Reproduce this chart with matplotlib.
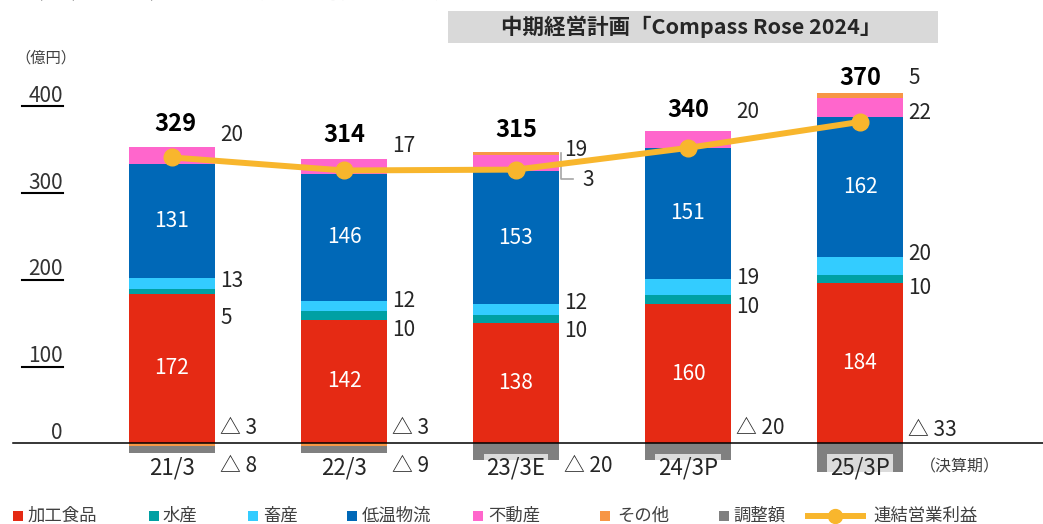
import matplotlib
matplotlib.use("Agg")
import matplotlib.pyplot as plt
from matplotlib.patches import Rectangle
from matplotlib.lines import Line2D

plt.rcParams["font.family"] = ["Noto Sans CJK JP", "DejaVu Sans"]

W_PX, H_PX = 1043, 524

# ---- data (億円) ----
periods    = ["21/3", "22/3", "23/3E", "24/3P", "25/3P"]
processed  = [172, 142, 138, 160, 184]   # 加工食品
seafood    = [5, 10, 10, 10, 10]         # 水産
livestock  = [13, 12, 12, 19, 20]        # 畜産
logistics  = [131, 146, 153, 151, 162]   # 低温物流
realestate = [20, 17, 19, 20, 22]        # 不動産
others     = [-3, -3, 3, 0, 5]           # その他
adjust     = [-8, -9, -20, -20, -33]     # 調整額
op_income  = [329, 314, 315, 340, 370]   # 連結営業利益

SERIES = [
    ("加工食品", processed, "#E52A14"),
    ("水産", seafood, "#00A0A3"),
    ("畜産", livestock, "#33CCFF"),
    ("低温物流", logistics, "#0068B7"),
    ("不動産", realestate, "#FF66CC"),
    ("その他", others, "#F79646"),
    ("調整額", adjust, "#808080"),
]
LINE_COLOR = "#F8B62D"
TXT = "#262626"

# label layout (y in data units) for the labels to the right of each bar
RIGHT_Y = {
    "水産":   [144, 130, 129, 157, 179],
    "畜産":   [187, 164, 161, 190, 218],
    "不動産": [355, 342, 338, 381, 380],
    "その他": [17, 17, 303, None, 420],
    "調整額": [-26, -26, -26, 17, 15],
}
TOTAL_Y = [367, 355, 361, 384, 421]

fig = plt.figure(figsize=(W_PX / 100, H_PX / 100), dpi=100)
ax = fig.add_axes([0, 0, 1, 1])
ax.set_xlim(-1.0, 5.064)
ax.set_ylim(-93.3, 510.4)
ax.axis("off")

x = list(range(len(periods)))
pos = [0] * len(x)
neg = [0] * len(x)
for name, vals, col in SERIES:
    bottoms = []
    for i, v in enumerate(vals):
        if v >= 0:
            bottoms.append(pos[i]); pos[i] += v
        else:
            bottoms.append(neg[i]); neg[i] += v
    ax.bar(x, vals, bottom=bottoms, width=0.5, color=col, zorder=2)
    if name in ("加工食品", "低温物流"):
        for i, v in enumerate(vals):
            ax.text(i, bottoms[i] + v / 2, f"{v}", color="white", fontsize=15,
                    ha="center", va="center", zorder=4)
    else:
        for i, v in enumerate(vals):
            y = RIGHT_Y[name][i]
            if y is None:
                continue
            s = f"△ {abs(v)}" if v < 0 else f"{v}"
            dx = 0.385 if (name == "その他" and v > 0 and i == 2) else 0.28
            ax.text(i + dx, y, s, color=TXT, fontsize=15, ha="left",
                    va="center", zorder=4)

# leader line for the small その他 segment of 23/3E
ax.plot([2 + 0.262, 2 + 0.262, 2 + 0.33], [334, 304, 304], color="#A6A6A6",
        lw=1.2, zorder=3)

# operating income line
ax.plot(x, op_income, color=LINE_COLOR, lw=4.3, marker="o", ms=12, zorder=5)
for i, t in enumerate(op_income):
    ax.text(i + (0.02 if i == 0 else 0), TOTAL_Y[i], f"{t}", fontsize=17,
            fontweight="bold", color="black", ha="center", va="center", zorder=6)

# zero line + y labels (underlined)
ax.plot([-0.924, 5.064], [0, 0], color="black", lw=1.1, zorder=3)
for v in [100, 200, 300, 400]:
    ax.text(-0.634, v, f"{v}", fontsize=15, color="#333333", ha="right",
            va="center")
    ax.plot([-0.872, -0.634], [v - 12, v - 12], color="black", lw=1.5)
ax.text(-0.634, 11.5, "0", fontsize=15, color="#333333", ha="right", va="center")
ax.text(-0.913, 443.5, "（億円）", fontsize=11, color="#404040", ha="left",
        va="center")

# x labels
for i, p in enumerate(periods):
    ax.text(i, -28.8, p, fontsize=16, color=TXT, ha="center", va="center",
            zorder=4, bbox=dict(boxstyle="square,pad=0.12", fc="white",
                                ec="none", alpha=0.72))
ax.text(4.35, -27.6, "（決算期）", fontsize=11.5, color="#404040", ha="left",
        va="center")


def fx(px):
    return px / W_PX


def fy(py):
    return 1 - py / H_PX


# header box
fig.add_artist(Rectangle((fx(448), fy(43)), fx(938) - fx(448), (43 - 11) / H_PX,
                         transform=fig.transFigure, fc="#D9D9D9", ec="none"))
fig.text(fx(691), fy(27), "中期経営計画「Compass Rose 2024」", fontsize=15.5,
         fontweight="bold", color=TXT, ha="center", va="center")

# cut-off title at the very top
fig.text(fx(20), fy(-9), "（２）　セグメント別 営業利益の推移", fontsize=18,
         fontweight="bold", color="black", ha="left", va="center")

# legend (manual layout)
LEG_X = [(13, 28), (149, 163), (248, 263), (347, 362), (473, 488), (600, 617),
         (719, 733)]
for (name, _, col), (sx, tx) in zip(SERIES, LEG_X):
    fig.add_artist(Rectangle((fx(sx), fy(521)), 10 / W_PX, 10 / H_PX,
                             transform=fig.transFigure, fc=col, ec="none"))
    fig.text(fx(tx), fy(516), name, fontsize=12.5, color="#404040",
             ha="left", va="center")
fig.add_artist(Line2D([fx(808), fx(863)], [fy(516), fy(516)],
                      transform=fig.transFigure, color=LINE_COLOR, lw=4.3))
fig.add_artist(Line2D([fx(835)], [fy(516)], transform=fig.transFigure,
                      color=LINE_COLOR, marker="o", ms=10))
fig.text(fx(873), fy(516), "連結営業利益", fontsize=12.5, color="#404040",
         ha="left", va="center")

fig.savefig("out.png", dpi=100)
